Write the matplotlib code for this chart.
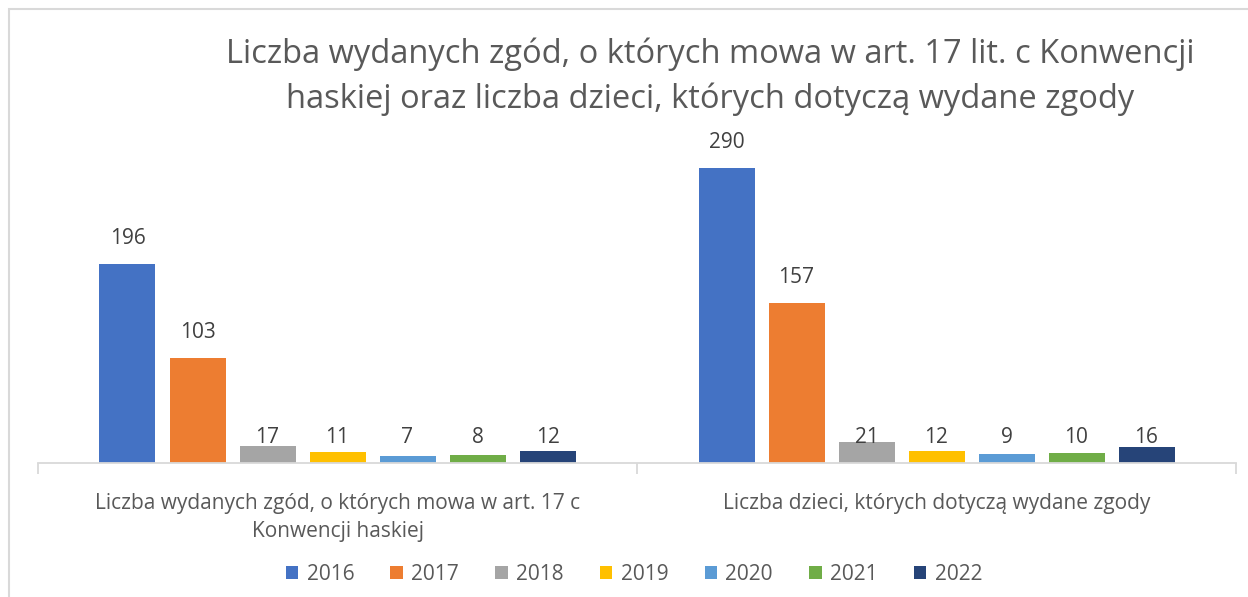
import matplotlib
matplotlib.use("Agg")
import matplotlib.pyplot as plt
from matplotlib.patches import Rectangle
import numpy as np

plt.rcParams['font.family'] = ['Open Sans', 'DejaVu Sans']

categories = ["Liczba wydanych zgód, o których mowa w art. 17 c\nKonwencji haskiej",
              "Liczba dzieci, których dotyczą wydane zgody"]
years = ["2016", "2017", "2018", "2019", "2020", "2021", "2022"]
values = {
    "2016": [196, 290],
    "2017": [103, 157],
    "2018": [17, 21],
    "2019": [11, 12],
    "2020": [7, 9],
    "2021": [8, 10],
    "2022": [12, 16],
}
colors = ["#4472C4", "#ED7D31", "#A5A5A5", "#FFC000", "#5B9BD5", "#70AD47", "#264478"]
title = "Liczba wydanych zgód, o których mowa w art. 17 lit. c Konwencji\nhaskiej oraz liczba dzieci, których dotyczą wydane zgody"

W, H = 1248, 597
fig = plt.figure(figsize=(W / 100, H / 100), dpi=100)
fig.patch.set_facecolor("white")
fig.patches.append(Rectangle((9 / W, -0.1), 1.2, 1 - 9 / H + 0.1, transform=fig.transFigure,
                             fill=False, edgecolor="#d9d9d9", linewidth=1.5))

ax_l, ax_r = 38 / W, 1236 / W
ax_b = (H - 463) / H
ax_t = (H - 158) / H
ax = fig.add_axes([ax_l, ax_b, ax_r - ax_l, ax_t - ax_b])
ax.set_xlim(-0.5, 1.5)
ax.set_ylim(0, 300)

bw = 56 / 599
step = 70 / 599
gray = "#595959"
for i, (y, c) in enumerate(zip(years, colors)):
    x = np.arange(len(categories)) + (i - 3) * step
    vals = values[y]
    ax.bar(x, vals, width=bw, color=c, label=y, zorder=2)
    for xi, v in zip(x, vals):
        ly = v + 25 if v > 50 else 25
        ax.text(xi, ly, str(v), ha="center", va="center", fontsize=15, color="#404040")

for s in ["top", "right", "left"]:
    ax.spines[s].set_visible(False)
ax.spines["bottom"].set_color("#d9d9d9")
ax.spines["bottom"].set_linewidth(1.3)
ax.set_yticks([])
ax.set_xticks([-0.5, 0.5, 1.5], minor=False)
ax.set_xticklabels([])
ax.tick_params(axis="x", length=8, color="#d9d9d9", width=1.3)
for xi, cat in enumerate(categories):
    ax.text(xi, -30, cat, ha="center", va="top", fontsize=15, color=gray,
            linespacing=1.38)

fig.text(710 / W, 1 - 77 / H, title, ha="center", va="center", fontsize=23.5,
         color=gray, linespacing=1.45)

leg = fig.legend(loc="center", bbox_to_anchor=(634 / W, 1 - 574 / H), ncol=7,
                 frameon=False, fontsize=15, handlelength=0.6, handleheight=0.6,
                 handletextpad=0.4, columnspacing=1.74)
for t in leg.get_texts():
    t.set_color(gray)

fig.savefig("out.png", dpi=100, facecolor="white")
